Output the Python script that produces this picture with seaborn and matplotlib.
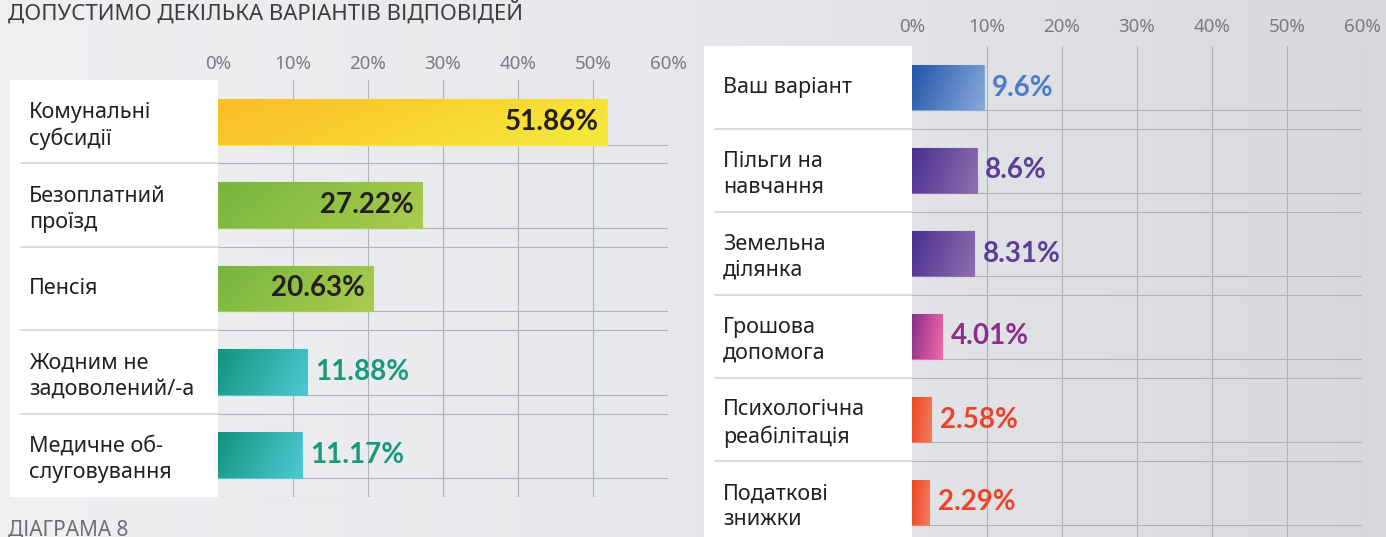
import numpy as np
import matplotlib.pyplot as plt
import matplotlib.transforms as mtransforms
from matplotlib.colors import LinearSegmentedColormap
from matplotlib.patches import Rectangle
import seaborn as sns

# data
left_labels = ['Комунальні\nсубсидії', 'Безоплатний\nпроїзд', 'Пенсія',
               'Жодним не\nзадоволений/-а', 'Медичне об-\nслуговування']
left_values = [51.86, 27.22, 20.63, 11.88, 11.17]
right_labels = ['Ваш варіант', 'Пільги на\nнавчання', 'Земельна\nділянка',
                'Грошова\nдопомога', 'Психологічна\nреабілітація', 'Податкові\nзнижки']
right_values = [9.6, 8.6, 8.31, 4.01, 2.58, 2.29]
tick_values = [0, 10, 20, 30, 40, 50, 60]
tick_labels = ['0%', '10%', '20%', '30%', '40%', '50%', '60%']
title = 'ДОПУСТИМО ДЕКІЛЬКА ВАРІАНТІВ ВІДПОВІДЕЙ'
footer = 'ДІАГРАМА 8'

# styles
left_grad = [('#fbbd28', '#f6ea3c'), ('#76b63e', '#aacb4e'), ('#76b63e', '#aacb4e'),
             ('#13937a', '#4fc9d5'), ('#13937a', '#4fc9d5')]
left_txt = ['#231f20', '#231f20', '#231f20', '#17997d', '#17997d']
right_grad = [('#2354a8', '#88aadb'), ('#48308f', '#906eaf'), ('#48308f', '#906eaf'),
              ('#8a2d89', '#f26ca8'), ('#ec4622', '#f47d60'), ('#ec4622', '#f47d60')]
right_txt = ['#4a7cc9', '#5a3e98', '#5a3e98', '#8b2d8b', '#ec4428', '#ec4428']

sns.set_theme(style='white')
plt.rcParams['font.family'] = ['Noto Sans', 'DejaVu Sans']
num_font = ['Lato', 'DejaVu Sans']

W, H = 1386, 537
fig = plt.figure(figsize=(W / 100, H / 100), dpi=100)

# background
bg = fig.add_axes([0, 0, 1, 1], zorder=-5)
bg_cmap = LinearSegmentedColormap.from_list('bg', ['#eef0f2', '#e6e8eb', '#d7d9de'])
bg.imshow(np.tile(np.linspace(0, 1, 256), (8, 1)), cmap=bg_cmap, aspect='auto',
          extent=(0, 1, 0, 1))
bg.axis('off')


def panel(rect_px, labels, values, grads, txtcols, tick_pad, box_px=208, text_px=189, sep_px=197):
    x0, y_top, x1, y_bot = rect_px
    ax = fig.add_axes([x0 / W, 1 - y_bot / H, (x1 - x0) / W, (y_bot - y_top) / H])
    aw = x1 - x0
    ax.set_facecolor('none')
    sns.barplot(x=values, y=labels, hue=labels, palette=[g[1] for g in grads],
                orient='h', width=0.55, legend=False, ax=ax, zorder=3)
    n = len(values)
    # gradients clipped to each bar
    for patch, (c0, c1) in zip(ax.patches, grads):
        bx, by, bw, bh = patch.get_x(), patch.get_y(), patch.get_width(), patch.get_height()
        cmap = LinearSegmentedColormap.from_list('g', [c0, c1])
        xx, yy = np.meshgrid(np.linspace(0, 1, 256), np.linspace(0, 1, 32))
        im = ax.imshow(0.8 * xx + 0.2 * yy, cmap=cmap, extent=(bx, bx + bw, by + bh, by),
                       aspect='auto', origin='upper', interpolation='bilinear', zorder=3.5)
        im.set_clip_path(patch)
        patch.set_edgecolor(c1)
        patch.set_linewidth(0.8)
    ax.set_xlim(0, 60)
    ax.set_ylim(n - 0.5, -0.5)
    # grid
    for t in tick_values[1:]:
        ax.axvline(t, color='#afb3b9', lw=0.8, zorder=1)
    for i, patch in enumerate(ax.patches):
        ax.axhline(patch.get_y() + patch.get_height(), color='#afb3b9', lw=0.8, zorder=1)
        ax.axhline(i + 0.5, color='#afb3b9', lw=0.8, zorder=1)
    trans = mtransforms.blended_transform_factory(ax.transAxes, ax.transData)
    down = trans + mtransforms.ScaledTranslation(0, -3 / 72, fig.dpi_scale_trans)
    # white label box
    ax.add_patch(Rectangle((-box_px / aw, 0), box_px / aw, 1, transform=ax.transAxes,
                           facecolor='white', edgecolor='none', clip_on=False, zorder=2))
    for i in range(n - 1):
        ax.plot([-sep_px / aw, 0], [i + 0.5, i + 0.5], transform=trans, color='#d2d4d7',
                lw=1.2, clip_on=False, zorder=2.5)
    for i, lab in enumerate(labels):
        ax.text(-text_px / aw, i, lab, transform=down if '\n' in lab else trans,
                ha='left', va='center', fontsize=15.5, color='#231f20',
                linespacing=1.3, zorder=4)
    # value labels
    for i, (v, col) in enumerate(zip(values, txtcols)):
        inside = v >= 20
        ax.annotate(f'{v:g}%', (v, i), xytext=(-6 if inside else 6, 0),
                    textcoords='offset points', ha='right' if inside else 'left',
                    va='center', fontsize=20, fontweight='bold', color=col,
                    family=num_font, zorder=5)
    ax.xaxis.tick_top()
    ax.set_xticks(tick_values)
    ax.set_xticklabels(tick_labels)
    ax.tick_params(axis='x', length=0, pad=tick_pad, labelsize=13.5, labelcolor='#7a7b7e')
    ax.set_yticks([])
    ax.set_ylabel('')
    for s in ax.spines.values():
        s.set_visible(False)
    return ax


panel((218, 80, 668, 497), left_labels, left_values, left_grad, left_txt, tick_pad=5)
panel((912, 46, 1362, 544), right_labels, right_values, right_grad, right_txt, tick_pad=7)

fig.text(8 / W, 1 - 20 / H, title, ha='left', va='baseline', fontsize=16,
         color='#3d3d3f', fontweight='light')
fig.text(8 / W, 1 - 536 / H, footer, ha='left', va='baseline', fontsize=15,
         color='#6d6e71', fontweight='light')

fig.savefig('out.png', dpi=100)
